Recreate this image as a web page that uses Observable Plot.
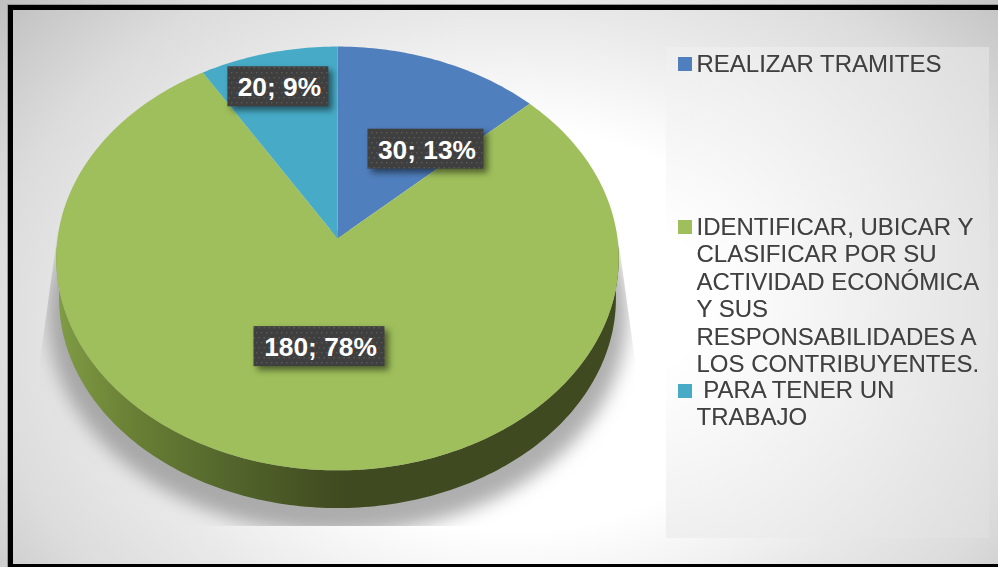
<!DOCTYPE html>
<html lang="es">
<head>
<meta charset="utf-8">
<script src="https://cdn.jsdelivr.net/npm/d3@7"></script>
<script src="https://cdn.jsdelivr.net/npm/@observablehq/plot@0.6"></script>
<style>
  html, body { margin: 0; padding: 0; background: #fff; }
  #stage { position: relative; width: 998px; height: 567px; overflow: hidden;
    background: radial-gradient(ellipse 530px 400px at 515px 330px, #fff 50%, #e8e8e8 80%, #dcdcdc 100%, #bdbdbd 130%); }
  #frame { position: absolute; left: 8px; top: 5px; width: 1000px; height: 554px; border: 5px solid #000; box-shadow: 0 0 0 1px #999; }
  #panel { position: absolute; left: 666px; top: 47px; width: 323px; height: 491px;
    background: radial-gradient(ellipse 430px 450px at -26px 253px, #fff 15%, #dcdcdc 100%); }
  #chart { position: absolute; left: 0; top: 0; }
</style>
</head>
<body>
<div id="stage"><div id="panel"></div><div id="frame"></div><div id="chart"></div></div>
<script>
// Data
const categories = ["REALIZAR TRAMITES", "IDENTIFICAR, UBICAR Y CLASIFICAR POR SU ACTIVIDAD ECONÓMICA Y SUS RESPONSABILIDADES A LOS CONTRIBUYENTES.", "PARA TENER UN TRABAJO"];
const values = [30, 180, 20];
const percents = [13, 78, 9];
const colors = ["#4f7fbd", "#9ebf5b", "#47abc7"];
const legendLines = ["REALIZAR TRAMITES", "IDENTIFICAR, UBICAR Y\nCLASIFICAR POR SU\nACTIVIDAD ECONÓMICA\nY SUS\nRESPONSABILIDADES A\nLOS CONTRIBUYENTES.", " PARA TENER UN\nTRABAJO"];

// Layout of the tilted pie (perspective projection of a unit disc)
const pie = {cx: 337, cy: 238, a: 210, b: 280, k: 0.0943, depth: 40};
const labelNudgeX = [35, 2, -23], labelNudgeY = [3, -1, -55];
const labelWidth = [116, 131, 101], labelHeight = 40;
const legendY = [57, 220, 384], legendTextY = [52, 215, 378];
const legendX = 678, legendSize = 14, legendTextX = 696, legendLead = 27.4;

function project(theta, r = 1, offset = 0, scale = 1) {
  const u = r * Math.sin(theta), v = r * Math.cos(theta), w = 1 + pie.k * v;
  return {x: pie.cx + scale * pie.b * u / w, y: pie.cy + offset - scale * pie.a * v / w};
}
const total = d3.sum(values);
const deg = Math.PI / 180;
let start = 0;
const slices = categories.map((category, i) => {
  const t0 = start, t1 = start + values[i] / total * 2 * Math.PI;
  start = t1;
  return {category, t0, t1, mid: (t0 + t1) / 2, i};
});
const wedges = slices.flatMap(s => {
  const pts = [{...project(0, 0), category: s.category}];
  const n = Math.max(2, Math.ceil((s.t1 - s.t0) / deg));
  for (let j = 0; j <= n; ++j) pts.push({...project(s.t0 + (s.t1 - s.t0) * j / n), category: s.category});
  return pts;
});
const frontArc = d3.range(92, 269, 1).map(a => a * deg);
const sidePts = [...frontArc.map(t => project(t)), ...frontArc.slice().reverse().map(t => project(t, 1, pie.depth, 0.99))];
const shadowPts = d3.range(0, 360, 2).map(a => project(a * deg, 1, pie.depth + 16, 1.03));
const labels = slices.map(s => {
  const p = project(s.mid, 0.5);
  const x = p.x + labelNudgeX[s.i], y = p.y + labelNudgeY[s.i];
  return {x, y, w: labelWidth[s.i], text: `${values[s.i]}; ${percents[s.i]}%`};
});
const legend = categories.map((category, i) => ({category, text: legendLines[i], y: legendY[i], ty: legendTextY[i]}));

const defs = () => {
  const d = d3.create("svg:defs");
  const g = d.append("linearGradient").attr("id", "side").attr("gradientUnits", "userSpaceOnUse")
    .attr("x1", 60).attr("x2", 345).attr("y1", 0).attr("y2", 0);
  [[0, "#7f9b44"], [0.25, "#6a8035"], [0.55, "#55692d"], [0.9, "#444f22"], [1, "#3f4a20"]]
    .forEach(([o, c]) => g.append("stop").attr("offset", o).attr("stop-color", c));
  d.append("filter").attr("id", "blur").attr("x", "-10%").attr("y", "-10%").attr("width", "120%").attr("height", "120%")
    .append("feGaussianBlur").attr("stdDeviation", 9);
  d.append("clipPath").attr("id", "shadowClip").append("polygon")
    .attr("points", "58,230 40,360 40,526 635,526 635,360 617,230");
  const p = d.append("pattern").attr("id", "dots").attr("patternUnits", "userSpaceOnUse").attr("width", 10).attr("height", 10);
  p.append("rect").attr("width", 10).attr("height", 10).attr("fill", "#3f3f3f");
  [[1, 2], [6, 2], [3.5, 7], [8.5, 7]].forEach(([x, y]) =>
    p.append("rect").attr("x", x).attr("y", y).attr("width", 1.4).attr("height", 1.4).attr("fill", "#5a5a5a"));
  return d.node();
};

const chart = Plot.plot({
  width: 998, height: 567,
  margin: 0,
  style: {background: "transparent", fontFamily: "'Liberation Sans', Arial, sans-serif"},
  x: {domain: [0, 998], range: [0, 998], axis: null},
  y: {domain: [0, 567], range: [0, 567], axis: null},
  color: {domain: categories, range: colors},
  marks: [
    defs,
    Plot.line(shadowPts, {x: "x", y: "y", fill: "#8c8c8c", stroke: "none", fillOpacity: 0.7,
      render(i, s, v, d, c, next) {
        const g = next(i, s, v, d, c);
        g.setAttribute("filter", "url(#blur)");
        const wrap = document.createElementNS("http://www.w3.org/2000/svg", "g");
        wrap.setAttribute("clip-path", "url(#shadowClip)");
        wrap.appendChild(g);
        return wrap;
      }}),
    Plot.line(sidePts, {x: "x", y: "y", fill: "url(#side)", stroke: "none"}),
    Plot.line(wedges, {x: "x", y: "y", z: "category", fill: "category", stroke: "none"}),
    Plot.rect(labels, {
      x1: d => d.x - d.w / 2, x2: d => d.x + d.w / 2,
      y1: d => d.y - labelHeight / 2, y2: d => d.y + labelHeight / 2,
      fill: "url(#dots)",
      render(i, s, v, d, c, next) {
        const g = next(i, s, v, d, c);
        g.style.filter = "drop-shadow(4px 4px 3px rgba(0,0,0,0.5))";
        return g;
      }}),
    Plot.text(labels, {x: d => d.x + 1, y: d => d.y + 1, text: "text", fill: "#fff", fontSize: 26.3, fontWeight: "bold", textAnchor: "middle", lineAnchor: "middle"}),
    Plot.rect(legend, {x1: () => legendX, x2: () => legendX + legendSize, y1: "y", y2: d => d.y + legendSize, fill: "category"}),
    Plot.text(legend, {x: () => legendTextX, y: "ty", text: "text", fill: "#404040", fontSize: 24, textAnchor: "start", lineAnchor: "top", lineHeight: legendLead / 24,
      render(i, s, v, d, c, next) {
        const g = next(i, s, v, d, c);
        g.style.filter = "drop-shadow(0.5px 0.5px 0.5px rgba(0,0,0,0.25))";
        return g;
      }})
  ]
});
document.getElementById("chart").appendChild(chart);
</script>
</body>
</html>
